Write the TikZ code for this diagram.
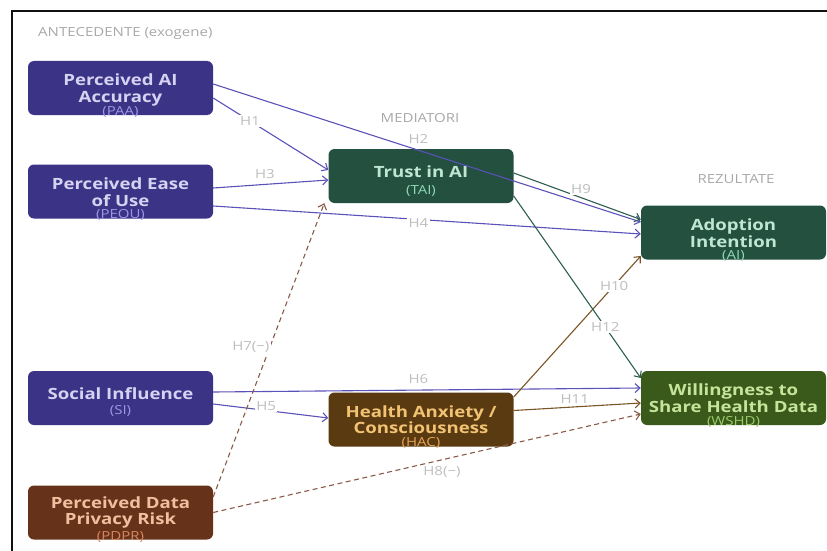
\documentclass[tikz,border=0pt]{standalone}
\usepackage{fontspec}
\setmainfont{Open Sans}[FakeStretch=1.2]
\usetikzlibrary{arrows.meta}
\definecolor{frameink}{HTML}{111111}
\definecolor{grouptxt}{HTML}{A8A8A8}
\definecolor{hyptxt}{HTML}{BDBDBD}
\definecolor{antefill}{HTML}{3B3486}
\definecolor{antetxt}{HTML}{D6D2F2}
\definecolor{antesub}{HTML}{9E96E6}
\definecolor{medfill}{HTML}{23503F}
\definecolor{medtxt}{HTML}{BFE6D2}
\definecolor{medsub}{HTML}{8FD9B6}
\definecolor{anxfill}{HTML}{5A3A10}
\definecolor{anxtxt}{HTML}{F2C374}
\definecolor{anxsub}{HTML}{E6A55A}
\definecolor{sharefill}{HTML}{395A1B}
\definecolor{sharetxt}{HTML}{C7E59A}
\definecolor{sharesub}{HTML}{9CCB6A}
\definecolor{riskfill}{HTML}{66321A}
\definecolor{risktxt}{HTML}{F0BFA0}
\definecolor{risksub}{HTML}{D8855E}
\definecolor{vline}{HTML}{5A52B8}
\definecolor{gline}{HTML}{2E5E50}
\definecolor{bline}{HTML}{7A5526}
\definecolor{dline}{HTML}{8A5A48}
\tikzset{
  basebox/.style={rounded corners=6pt,minimum width=185pt,minimum height=54pt,align=center,inner sep=2pt,font=\fontsize{15.5}{16.5}\selectfont\bfseries},
  antebox/.style={basebox,fill=antefill,text=antetxt},
  medbox/.style={basebox,fill=medfill,text=medtxt},
  anxbox/.style={basebox,fill=anxfill,text=anxtxt},
  sharebox/.style={basebox,fill=sharefill,text=sharetxt},
  riskbox/.style={basebox,fill=riskfill,text=risktxt},
  textdown/.style={execute at begin node={\rule{0pt}{#1}}},
  textup/.style={execute at end node={\rule[-#1]{0pt}{#1}}},
  subtxt/.style={font=\fontsize{12.5}{13}\selectfont,inner sep=0pt},
  grouplab/.style={font=\fontsize{12.5}{13}\selectfont,text=grouptxt,inner sep=0pt},
  hyp/.style={-{Straight Barb[length=5pt,width=9pt]},line width=1.1pt},
  varrow/.style={hyp,draw=vline},
  garrow/.style={hyp,draw=gline},
  barrow/.style={hyp,draw=bline},
  darrow/.style={hyp,draw=dline,dashed,dash pattern=on 5pt off 3.5pt},
  hlab/.style={font=\fontsize{12.5}{13}\selectfont,text=hyptxt,inner sep=1.5pt},
  gap/.style={hlab,fill=white}
}
\begin{document}
\begin{tikzpicture}[x=1pt,y=-1pt]
  \useasboundingbox (0,0) rectangle (827,551);
  \draw[frameink,line width=2pt] (827,11) -| (12,551);

  % column headings
  \node[grouplab,anchor=west] (antelab) at (38,33) {ANTECEDENTE (exogene)};
  \node[grouplab] (medlab) at (420,118) {MEDIATORI};
  \node[grouplab] (reslab) at (736,179) {REZULTATE};

  % constructs
  \node[antebox,textdown=32pt,label={[subtxt,text=antesub,label distance=-9pt]south:(PAA)}] (paa) at (120.5,88) {Perceived AI\\Accuracy};
  \node[antebox,textdown=30pt,label={[subtxt,text=antesub,label distance=-9pt]south:(PEOU)}] (peou) at (120.5,191.5) {Perceived Ease\\of Use};
  \node[antebox,textup=8pt,label={[subtxt,text=antesub,label distance=-19.5pt]south:(SI)}] (si) at (120.5,398) {Social Influence};
  \node[riskbox,label={[subtxt,text=risksub,label distance=-8pt]south:(PDPR)}] (pdpr) at (120.5,512.5) {Perceived Data\\Privacy Risk};
  \node[medbox,textup=8pt,label={[subtxt,text=medsub,label distance=-17.5pt]south:(TAI)}] (tai) at (421,176) {Trust in AI};
  \node[anxbox,label={[subtxt,text=anxsub,label distance=-9pt]south:(HAC)}] (hac) at (421,419.5) {Health Anxiety /\\Consciousness};
  \node[medbox,textdown=30pt,label={[subtxt,text=medsub,label distance=-9pt]south:(AI)}] (ai) at (733.5,232.5) {Adoption\\Intention};
  \node[sharebox,label={[subtxt,text=sharesub,label distance=-9pt]south:(WSHD)}] (wshd) at (733.5,398) {Willingness to\\Share Health Data};

  % hypotheses
  \draw[varrow] ([yshift=-10pt]paa.east) -- node[gap,pos=0.32] (h1) {H1} ([yshift=6pt]tai.west);
  \draw[varrow] ([yshift=4pt]paa.east) -- node[hlab,above=5pt,pos=0.48] (h2) {H2} ([yshift=10.5pt]ai.west);
  \draw[varrow] ([yshift=3.5pt]peou.east) -- node[hlab,above=4pt,pos=0.45] (h3) {H3} ([yshift=-4pt]tai.west);
  \draw[varrow] ([yshift=-14.5pt]peou.east) -- node[gap,pos=0.48,yshift=-4pt] (h4) {H4} ([yshift=-1.5pt]ai.west);
  \draw[varrow] ([yshift=-6pt]si.east) -- node[gap,pos=0.46,yshift=4pt] (h5) {H5} ([yshift=1.5pt]hac.west);
  \draw[varrow] ([yshift=6pt]si.east) -- node[hlab,above=4pt,pos=0.48] (h6) {H6} ([yshift=10pt]wshd.west);
  \draw[darrow] ([yshift=15.5pt]pdpr.east) -- node[gap,pos=0.51,xshift=-19pt] (h7) {H7(−)} ([xshift=-4pt]tai.south west);
  \draw[darrow] (pdpr.east) -- node[hlab,below=5pt,pos=0.535] (h8) {H8(−)} ([yshift=-16pt]wshd.west);
  \draw[garrow] ([yshift=3pt]tai.east) -- node[gap,pos=0.53,yshift=9pt] (h9) {H9} ([yshift=13pt]ai.west);
  \draw[barrow] ([yshift=22.5pt]hac.east) -- node[gap,pos=0.79] (h10) {H10} ([yshift=-23.5pt]ai.west);
  \draw[barrow] ([yshift=9pt]hac.east) -- node[gap,pos=0.48,yshift=8pt] (h11) {H11} ([yshift=-5pt]wshd.west);
  \draw[garrow] ([yshift=-20pt]tai.east) -- node[gap,pos=0.72] (h12) {H12} ([yshift=20pt]wshd.west);
\end{tikzpicture}
\end{document}
